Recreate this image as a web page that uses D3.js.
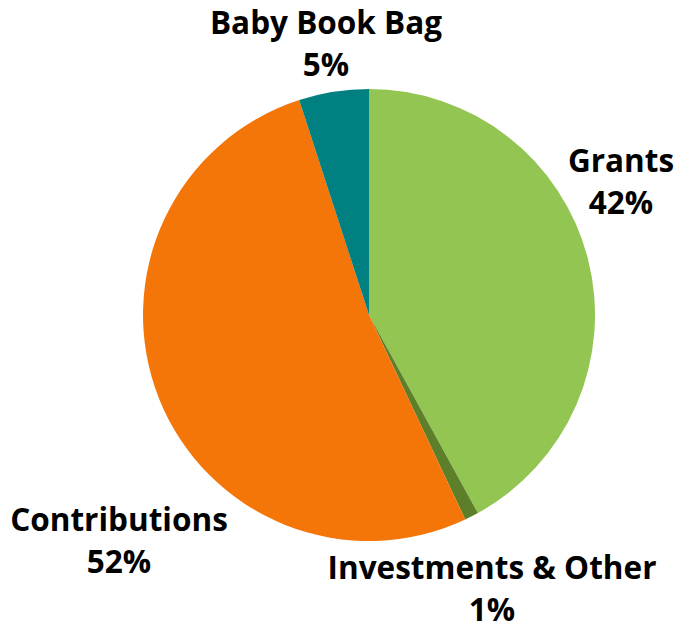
<!DOCTYPE html>
<html>
<head>
<meta charset="utf-8">
<script src="https://cdn.jsdelivr.net/npm/d3@7"></script>
<style>
  body { margin: 0; background: #fff; }
  text { font-family: "Open Sans", sans-serif; font-weight: bold; fill: #000; }
</style>
</head>
<body>
<div id="chart"></div>
<script>
const categories = ["Grants", "Investments & Other", "Contributions", "Baby Book Bag"];
const values = [42, 1, 52, 5];
const labels = ["42%", "1%", "52%", "5%"];
const colors = ["#92c551", "#5e7f2a", "#f47508", "#008080"];

const width = 678, height = 627;
const cx = 369, cy = 315, radius = 226;

const svg = d3.select("#chart").append("svg")
    .attr("width", width)
    .attr("height", height);

const pie = d3.pie().sort(null).value(d => d)(values);
const arc = d3.arc().innerRadius(0).outerRadius(radius);

const g = svg.append("g").attr("transform", `translate(${cx},${cy})`);
g.selectAll("path")
    .data(pie)
    .join("path")
    .attr("d", arc)
    .attr("fill", (d, i) => colors[i]);

// label anchor points (baseline of the first line)
const labelPos = [
    {x: 621, y: 172},
    {x: 492, y: 579},
    {x: 119, y: 531},
    {x: 326, y: 34}
];

const lab = svg.selectAll(".label")
    .data(categories)
    .join("text")
    .attr("class", "label")
    .attr("text-anchor", "middle")
    .style("font-size", "31.5px");

lab.append("tspan")
    .attr("x", (d, i) => labelPos[i].x)
    .attr("y", (d, i) => labelPos[i].y)
    .text(d => d);
lab.append("tspan")
    .attr("x", (d, i) => labelPos[i].x)
    .attr("dy", 42)
    .text((d, i) => labels[i]);
</script>
</body>
</html>
